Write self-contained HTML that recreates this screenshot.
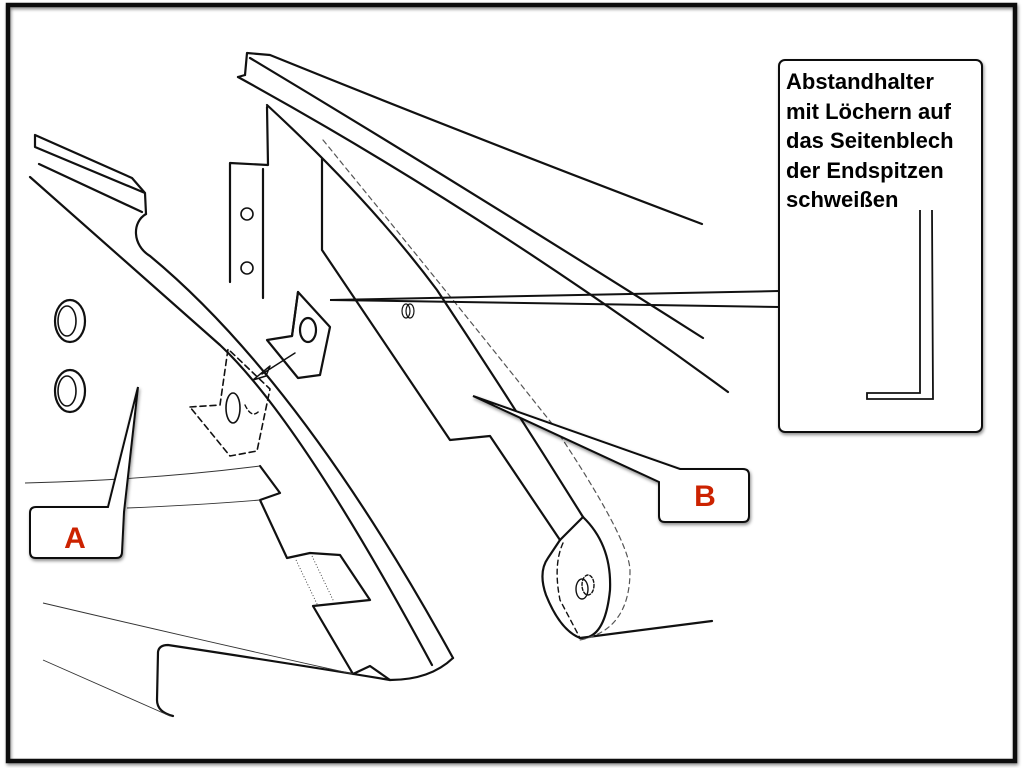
<!DOCTYPE html>
<html><head><meta charset="utf-8"><style>
html,body{margin:0;padding:0;background:#fff;}
svg{display:block;}
text{font-family:"Liberation Sans",Arial,sans-serif;font-weight:bold;}
</style></head><body>
<svg width="1024" height="768" viewBox="0 0 1024 768" xmlns="http://www.w3.org/2000/svg">
<rect x="0" y="0" width="1024" height="768" fill="#fff"/>
<defs>
<filter id="sh" x="-20%" y="-20%" width="140%" height="140%"><feDropShadow dx="1" dy="2" stdDeviation="1.5" flood-color="#000" flood-opacity="0.45"/></filter>
</defs>
<rect x="8" y="5" width="1007" height="756" fill="none" stroke="#111" stroke-width="4.5" filter="url(#sh)"/>

<g fill="none" stroke="#111" stroke-width="2.2" stroke-linejoin="round" stroke-linecap="round">
<path d="M35,135 L35,147 L145,193 M35,135 L132,178 L145,193 L146,214"/>
<path d="M39,164 L142,212"/>
<path d="M146,214 C132,222 132,245 150,256 Q300,380 453,658"/>
<path d="M30,177 L220,345 Q300,420 432,665"/>
<path d="M260,466 L280,493 L260,500 L287,558 L310,553 L340,555 L370,600 L313,606 L353,674 L370,666 L390,680"/>
<path d="M173,716 Q157,712 157,700 L158,652 Q159,645 168,645 Q300,665 390,680 Q430,680 453,658"/>
<ellipse cx="70" cy="321" rx="15" ry="21"/><ellipse cx="67" cy="321" rx="9" ry="15" stroke-width="1.6"/>
<ellipse cx="70" cy="391" rx="15" ry="21"/><ellipse cx="67" cy="391" rx="9" ry="15" stroke-width="1.6"/>
<path d="M267,107 L268,165 L230,163 L230,282"/>
<path d="M263,169 L263,298"/>
<circle cx="247" cy="214" r="6" stroke-width="1.6"/><circle cx="247" cy="268" r="6" stroke-width="1.6"/>
<path d="M245,75 L247,53 L270,55 Q480,140 702,224"/>
<path d="M238,77 L245,75 M250,58 Q470,190 703,338"/>
<path d="M238,77 Q480,210 728,392"/>
<path d="M267,105 Q370,200 437,290 Q510,400 583,517"/>
<path d="M322,159 L322,250 L450,440 L490,436 L560,540"/>
<path d="M583,517 Q612,545 610,590 Q605,640 580,638 L712,621"/>
<path d="M560,540 L548,558 Q538,572 546,595 Q560,630 580,638"/>
<path d="M583,517 L560,540"/>
<path d="M323,140 Q470,320 553,425 Q630,540 630,571 Q630,630 580,640" stroke-dasharray="5,4" stroke-width="1.2" stroke="#555"/>
<path d="M563,543 Q553,565 560,600 L580,638" stroke-dasharray="5,4" stroke-width="1.4"/>
<ellipse cx="406" cy="311" rx="4" ry="7" stroke-width="1.2"/><ellipse cx="410" cy="311" rx="4" ry="7" stroke-width="1.2"/>
<ellipse cx="582" cy="589" rx="6" ry="10" stroke-width="1.4"/><ellipse cx="588" cy="585" rx="6" ry="10" stroke-width="1.4" stroke-dasharray="3,2"/>
<path d="M298,292 L330,327 L320,375 L298,378 L267,340 L292,336 Z"/>
<path d="M292,336 L298,292"/>
<ellipse cx="308" cy="330" rx="8" ry="12"/>
<path d="M295,353 L262,374 M253,380 L270,366 L266,376 Z" stroke-width="1.5"/>
<path d="M190,407 L220,405 L228,349 L270,389 L257,451 L230,456 Z" stroke-dasharray="6,4" stroke-width="1.6"/>
<ellipse cx="233" cy="408" rx="7" ry="15" stroke-width="1.6"/>
<path d="M245,405 Q252,420 260,410" stroke-dasharray="4,3" stroke-width="1.4"/>
</g>
<g fill="none" stroke="#333" stroke-width="0.9">
<path d="M25,483 Q150,480 260,466"/>
<path d="M127,508 Q200,505 260,500"/>
<path d="M43,603 Q200,640 353,674"/>
<path d="M43,660 L170,716"/>
<path d="M296,560 L318,606 M312,556 L334,602" stroke-dasharray="1,2"/>
</g>
<g stroke="#111" stroke-width="2" fill="none">
<path d="M330,300 L779,291"/>
<path d="M330,300 L779,307"/>
</g>
<rect x="779" y="60" width="203" height="372" rx="6" fill="#fff" stroke="#111" stroke-width="2" filter="url(#sh)"/>
<g font-size="22" fill="#000">
<text x="786" y="89">Abstandhalter</text>
<text x="786" y="119">mit Löchern auf</text>
<text x="786" y="148">das Seitenblech</text>
<text x="786" y="178">der Endspitzen</text>
<text x="786" y="207">schweißen</text>
</g>
<g stroke="#111" stroke-width="1.8" fill="none">
<path d="M920,210 L920,393 L867,393 L867,399 L933,399 L932,210"/>
</g>
<path d="M36,507 L108,507 L138,387 L124,512 L122,552 Q122,558 116,558 L36,558 Q30,558 30,552 L30,513 Q30,507 36,507 Z" fill="#fff" stroke="#111" stroke-width="2" filter="url(#sh)"/>
<text x="75" y="548" font-size="30" fill="#cc2200" text-anchor="middle">A</text>
<path d="M473,396 L680,469 L743,469 Q749,469 749,475 L749,516 Q749,522 743,522 L665,522 Q659,522 659,516 L659,482 Z" fill="#fff" stroke="#111" stroke-width="2" filter="url(#sh)"/>
<text x="705" y="506" font-size="30" fill="#cc2200" text-anchor="middle">B</text>
</svg>
</body></html>
